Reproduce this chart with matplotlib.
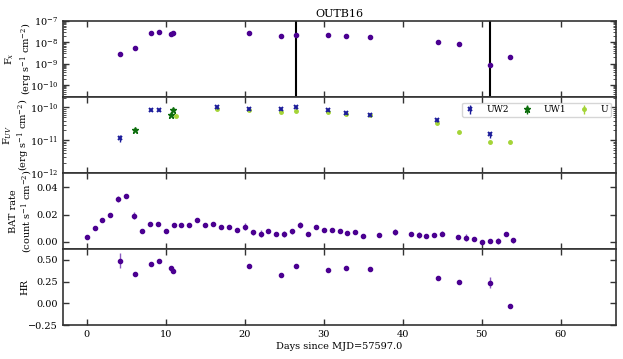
import matplotlib
matplotlib.use("Agg")
import matplotlib.pyplot as plt
import numpy as np
from matplotlib import ticker

plt.rcParams["font.family"] = "DejaVu Serif"
plt.rcParams["mathtext.fontset"] = "dejavuserif"
plt.rcParams["font.size"] = 7

# X-ray flux
t_x = [4.2, 6.1, 8.2, 9.1, 10.7, 10.9, 20.6, 24.6, 26.5, 30.6, 32.8, 35.9, 44.4, 47.1, 51.0, 53.6]
fx = [2.7e-9, 5.5e-9, 2.6e-8, 3.1e-8, 2.4e-8, 2.8e-8, 2.8e-8, 1.9e-8, 2.2e-8,
      2.1e-8, 1.9e-8, 1.7e-8, 1.0e-8, 8.5e-9, 8.7e-10, 2.1e-9]
# huge upper errors at 26.5 and 51.0 (bars go out of the panel)
fx_err_up = [0, 0, 0, 0, 0, 0, 0, 0, 1e-6, 0, 0, 0, 0, 0, 1e-6, 0]
fx_err_lo = [0, 0, 0, 0, 0, 0, 0, 0, 2.19999e-8, 0, 0, 0, 0, 0, 8.69999e-10, 0]

# UV flux
t_uw2 = [4.2, 8.2, 9.1, 16.5, 20.6, 24.6, 26.5, 30.6, 32.8, 35.9, 44.3, 51.0]
f_uw2 = [1.18e-11, 8.3e-11, 8.2e-11, 1.0e-10, 9.3e-11, 9.0e-11, 1.0e-10, 8.2e-11, 6.8e-11, 6.1e-11, 4.1e-11, 1.5e-11]
e_uw2 = [0.3e-11, 0.6e-11, 0.6e-11, 0.7e-11, 0.7e-11, 0.7e-11, 0.7e-11, 0.6e-11, 0.5e-11, 0.4e-11, 0.5e-11, 0.35e-11]

t_uw1 = [6.1, 10.7, 10.9]
f_uw1 = [2.0e-11, 5.8e-11, 8.3e-11]
e_uw1 = [0.1e-11, 0.3e-11, 0.4e-11]

t_u = [11.3, 16.5, 20.6, 24.6, 26.5, 30.6, 32.8, 35.9, 44.3, 47.1, 51.0, 53.6]
f_u = [5.5e-11, 9.3e-11, 8.3e-11, 7.2e-11, 7.9e-11, 7.2e-11, 6.5e-11, 5.8e-11, 3.4e-11, 1.85e-11, 8.9e-12, 9.1e-12]
e_u = [0.2e-11, 0.3e-11, 0.3e-11, 0.3e-11, 0.3e-11, 0.3e-11, 0.3e-11, 0.2e-11, 0.15e-11, 0.1e-11, 0.08e-11, 0.08e-11]

# BAT rate
t_bat = [0, 1, 2, 3, 4, 5, 6, 7, 8, 9, 10, 11, 12, 13, 14, 15, 16, 17, 18, 19, 20,
         21, 22, 23, 24, 25, 26, 27, 28, 29, 30, 31, 32, 33, 34, 35, 37, 39, 41, 42,
         43, 44, 45, 47, 48, 49, 50, 51, 52, 53, 54]
bat = [0.0039, 0.010, 0.016, 0.0193, 0.0313, 0.0335, 0.019, 0.0083, 0.0132, 0.0132,
       0.008, 0.0125, 0.0125, 0.0125, 0.016, 0.0127, 0.013, 0.0112, 0.011, 0.0088,
       0.0112, 0.0071, 0.0059, 0.008, 0.0056, 0.006, 0.0076, 0.0125, 0.0059, 0.0108,
       0.0088, 0.009, 0.0076, 0.0064, 0.0071, 0.0046, 0.0049, 0.0071, 0.0056, 0.0049,
       0.0042, 0.0051, 0.0061, 0.0034, 0.0032, 0.0024, 0.0002, 0.0007, 0.0007, 0.0054, 0.0012]
bat_err = [0.001, 0.001, 0.0012, 0.0012, 0.0025, 0.0012, 0.0025, 0.0012, 0.0012, 0.0012,
           0.0012, 0.0012, 0.0012, 0.0012, 0.0015, 0.0012, 0.0012, 0.0012, 0.0012, 0.0015,
           0.0028, 0.0018, 0.0025, 0.0015, 0.0015, 0.0022, 0.0015, 0.0022, 0.0012, 0.0015,
           0.0012, 0.0012, 0.0012, 0.0012, 0.0012, 0.0012, 0.0012, 0.002, 0.0012, 0.0022,
           0.0012, 0.0012, 0.002, 0.0012, 0.0022, 0.0012, 0.0012, 0.0012, 0.0025, 0.0012, 0.002]

# hardness ratio
t_hr = [4.2, 6.1, 8.2, 9.1, 10.7, 10.9, 20.6, 24.6, 26.5, 30.6, 32.8, 35.9, 44.4, 47.1, 51.0, 53.6]
hr = [0.49, 0.335, 0.455, 0.485, 0.40, 0.37, 0.425, 0.33, 0.43, 0.376, 0.40, 0.39, 0.293, 0.245, 0.237, -0.03]
hr_err = [0.085, 0.01, 0.01, 0.01, 0.012, 0.012, 0.01, 0.01, 0.01, 0.01, 0.01, 0.01, 0.01, 0.01, 0.06, 0.01]

purple = "#4b0091"
spine_c = "#333333"

fig, axes = plt.subplots(4, 1, sharex=True, figsize=(6.23, 3.59), dpi=100)
fig.subplots_adjust(left=0.101, right=0.989, top=0.942, bottom=0.094, hspace=0)
ax1, ax2, ax3, ax4 = axes

ax1.errorbar(t_x, fx, yerr=[fx_err_lo, fx_err_up], fmt="o", ms=3, color=purple,
             ecolor="black", elinewidth=1.5, capsize=0)
ax1.set_yscale("log")
ax1.set_ylim(2.8e-11, 1e-7)
ax1.yaxis.set_major_locator(ticker.LogLocator(base=10, numticks=10))
ax1.yaxis.set_minor_locator(ticker.LogLocator(base=10, subs=np.arange(2, 10), numticks=10))
ax1.set_ylabel("F$_x$\n(erg s$^{-1}$ cm$^{-2}$)")
ax1.yaxis.set_label_coords(-0.051, 0.5)
ax1.set_title("OUTB16", fontsize=8, pad=3)

ax2.errorbar(t_uw2, f_uw2, yerr=e_uw2, fmt="x", ms=3.5, mew=1.4, color="#1c1c9a",
             elinewidth=1, capsize=0, label="UW2", zorder=3)
ax2.errorbar(t_uw1, f_uw1, yerr=e_uw1, fmt="*", ms=4.5, color="#0d6e0d",
             elinewidth=1, capsize=0, label="UW1", zorder=2)
ax2.errorbar(t_u, f_u, yerr=e_u, fmt="o", ms=2.5, color="#a4d437",
             elinewidth=1, capsize=0, label="U", zorder=2)
ax2.set_yscale("log")
ax2.set_ylim(1e-12, 2.1e-10)
ax2.yaxis.set_major_locator(ticker.LogLocator(base=10, numticks=10))
ax2.yaxis.set_minor_locator(ticker.LogLocator(base=10, subs=np.arange(2, 10), numticks=10))
ax2.set_ylabel("F$_{UV}$\n(erg s$^{-1}$ cm$^{-2}$)")
ax2.yaxis.set_label_coords(-0.055, 0.5)
leg = ax2.legend(loc="upper right", ncol=3, fontsize=6.5, handlelength=1.2,
                 columnspacing=1.4, borderpad=0.3, handletextpad=1.2,
                 bbox_to_anchor=(0.998, 0.985))

ax3.errorbar(t_bat, bat, yerr=bat_err, fmt="o", ms=3, color=purple,
             ecolor="#8a5cc0", elinewidth=1, capsize=0)
ax3.set_ylim(-0.0053, 0.0503)
ax3.set_yticks([0.0, 0.02, 0.04])
ax3.yaxis.set_major_formatter(ticker.StrMethodFormatter("{x:.2f}"))
ax3.set_ylabel("BAT rate\n(count s$^{-1}$ cm$^{-2}$)")
ax3.yaxis.set_label_coords(-0.050, 0.5)

ax4.errorbar(t_hr, hr, yerr=hr_err, fmt="o", ms=3, color=purple,
             ecolor="#8a5cc0", elinewidth=1, capsize=0)
ax4.set_ylim(-0.25, 0.62)
ax4.set_yticks([-0.25, 0.0, 0.25, 0.5])
ax4.yaxis.set_major_formatter(ticker.StrMethodFormatter("{x:.2f}"))
ax4.set_ylabel("HR")
ax4.yaxis.set_label_coords(-0.061, 0.5)
ax4.set_xlim(-3, 67)
ax4.set_xticks([0, 10, 20, 30, 40, 50, 60])
ax4.set_xlabel("Days since MJD=57597.0", labelpad=2)

for ax in axes:
    ax.tick_params(which="both", direction="in", top=True, right=True, color=spine_c)
    ax.tick_params(which="major", length=4, width=1)
    ax.tick_params(which="minor", length=2, width=0.6)
    for s in ax.spines.values():
        s.set_color(spine_c)
        s.set_linewidth(1.2)

fig.savefig("out.png", dpi=100)
